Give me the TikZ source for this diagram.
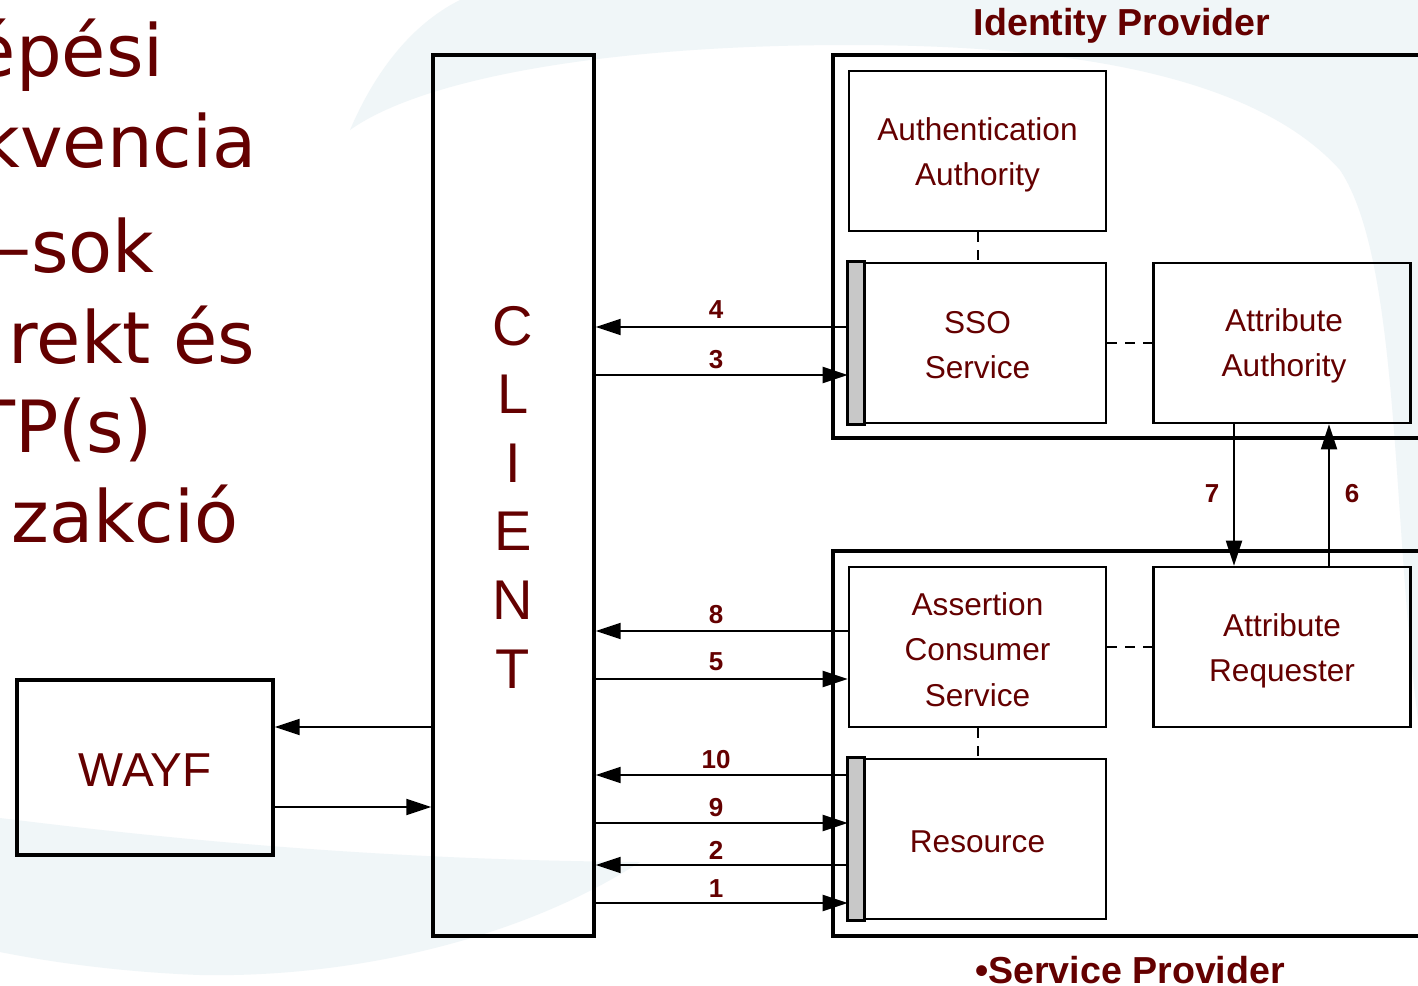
\documentclass[tikz,border=0pt]{standalone}
\usepackage{fontspec}
\setmainfont{Liberation Sans}
\newfontfamily\verd{DejaVu Sans}
\usetikzlibrary{arrows.meta}
\definecolor{txt}{RGB}{100,0,0}
\definecolor{barg}{RGB}{200,200,200}
\definecolor{bgb}{RGB}{240,246,248}
\begin{document}
\begin{tikzpicture}[x=0.5pt,y=-0.5pt,
 box/.style={draw, line width=1.3pt, minimum width=128.5pt, minimum height=80pt, inner sep=0pt},
 lbl/.style={align=center, text=txt, font=\fontsize{15.8}{22.7}\selectfont, inner sep=0pt},
 outer/.style={draw, line width=1.7pt, inner sep=0pt},
 arr/.style={line width=1pt, -{Triangle[length=12.5pt,width=8pt]}},
 dsh/.style={line width=1pt, dash pattern=on 5pt off 4pt},
 num/.style={text=txt, font=\bfseries\fontsize{13}{15}\selectfont, inner sep=0pt},
 ttl/.style={text=txt, font=\bfseries\fontsize{18.8}{22}\selectfont, inner sep=0pt},
 lft/.style={text=txt, font=\verd\fontsize{36}{42}\selectfont, anchor=base east, inner sep=0pt}]
\useasboundingbox (0,0) rectangle (1418,985);
\clip (0,0) rectangle (1418,985);
\fill[white] (0,0) rectangle (1418,985);

% faint background swooshes
\fill[bgb] (350,130) .. controls (380,60) and (420,20) .. (460,0) -- (1418,0) -- (1418,720)
  .. controls (1392,520) and (1400,260) .. (1340,170)
  .. controls (1250,70) and (1050,45) .. (850,45)
  .. controls (600,45) and (420,80) .. (350,130) -- cycle;
\fill[bgb] (0,818) .. controls (200,843) and (400,860) .. (640,862)
  .. controls (520,940) and (350,978) .. (200,975)
  .. controls (120,972) and (50,962) .. (0,952) -- cycle;

% left slide text
\node[lft] (t1) at (164,76) {épési};
\node[lft] (t2) at (257,167) {kvencia};
\node[lft] (t3) at (155,272) {–sok};
\node[lft] (t4) at (256,363) {rekt és};
\node[lft] (t5) at (153,452) {TP(s)};
\node[lft] (t6) at (239,542) {zakció};

% outer boxes
\node[outer, minimum width=298.5pt, minimum height=191.5pt] (idp) at (1131.5,246.5) {};
\node[outer, minimum width=298.5pt, minimum height=192.5pt] (sp) at (1131.5,743.5) {};
\node[ttl] (idpt) at (1122,26) {Identity Provider};
\node[ttl] (spt) at (1130,970) {•Service Provider};

% client
\node[draw, line width=1.7pt, minimum width=80.5pt, minimum height=440.5pt, inner sep=0pt] (client) at (513.5,495.5) {};
\node[text=txt, font=\fontsize{28}{34.3}\selectfont, align=center, inner sep=0pt] (cl) at (513,497) {C\\L\\I\\E\\N\\T};

% wayf
\node[draw, line width=1.7pt, minimum width=128pt, minimum height=87.5pt, inner sep=0pt] (wayf) at (145,767.5) {};
\node[text=txt, font=\fontsize{23.8}{28}\selectfont, inner sep=0pt] (wayfL) at (145,770) {WAYF};

% inner boxes
\node[box] (auth) at (977.5,151) {};
\node[box] (sso) at (977.5,343) {};
\node[box] (aa) at (1282,343) {};
\node[box] (acs) at (977.5,647) {};
\node[box] (ar) at (1282,647) {};
\node[box] (res) at (977.5,839) {};
\draw[line width=1.3pt, fill=barg] (sso.north west) rectangle ([xshift=8.5pt]sso.south west);
\draw[line width=1.3pt, fill=barg] (res.north west) rectangle ([xshift=8.5pt]res.south west);

\node[lbl] (authL) at ([yshift=-1.8pt]auth.center) {Authentication\\Authority};
\node[lbl] (ssoL) at ([yshift=-1.2pt]sso.center) {SSO\\Service};
\node[lbl] (aaL) at ([yshift=-1.4pt,xshift=1pt]aa.center) {Attribute\\Authority};
\node[lbl] (acsL) at ([yshift=-1.2pt]acs.center) {Assertion\\Consumer\\Service};
\node[lbl] (arL) at ([yshift=-1.8pt]ar.center) {Attribute\\Requester};
\node[lbl] (resL) at ([yshift=-1.2pt]res.center) {Resource};

% dashed links
\draw[dsh] (auth.south) -- (sso.north);
\draw[dsh] (sso.east) -- (aa.west);
\draw[dsh] (acs.east) -- (ar.west);
\draw[dsh] (acs.south) -- (res.north);

% arrows client <-> IdP / SP
\draw[arr] (sso.west |- 0,327) -- (client.east |- 0,327);
\draw[arr] (client.east |- 0,375) -- (sso.west |- 0,375);
\draw[arr] (acs.west |- 0,631) -- (client.east |- 0,631);
\draw[arr] (client.east |- 0,679) -- (acs.west |- 0,679);
\draw[arr] (res.west |- 0,775) -- (client.east |- 0,775);
\draw[arr] (client.east |- 0,823) -- (res.west |- 0,823);
\draw[arr] (res.west |- 0,865) -- (client.east |- 0,865);
\draw[arr] (client.east |- 0,903) -- (res.west |- 0,903);
% wayf arrows
\draw[arr] (client.west |- 0,727) -- (wayf.east |- 0,727);
\draw[arr] (wayf.east |- 0,807) -- (client.west |- 0,807);
% attribute arrows
\draw[arr] (aa.south -| 1234,0) -- (ar.north -| 1234,0);
\draw[arr] (ar.north -| 1329,0) -- (aa.south -| 1329,0);

% labels
\node[num] (n4) at (716,310) {4};
\node[num] (n3) at (716,360) {3};
\node[num] (n8) at (716,615) {8};
\node[num] (n5) at (716,662) {5};
\node[num] (n10) at (716,760) {10};
\node[num] (n9) at (716,808) {9};
\node[num] (n2) at (716,850) {2};
\node[num] (n1) at (716,889) {1};
\node[num] (n7) at (1212,494) {7};
\node[num] (n6) at (1352,494) {6};
\end{tikzpicture}
\end{document}
